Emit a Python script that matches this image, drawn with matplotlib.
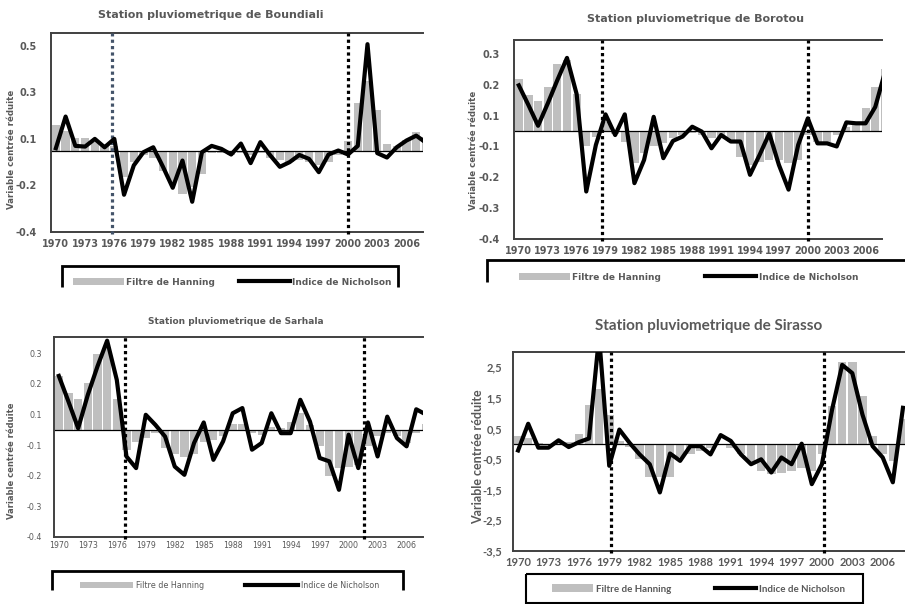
import numpy as np
import matplotlib
matplotlib.use('Agg')
import matplotlib.pyplot as plt
from matplotlib.patches import Rectangle
from matplotlib.lines import Line2D

years = list(range(1970, 2009))
tick_years = [str(y) for y in range(1970, 2007, 3)]

# Boundiali
boundiali_hanning = [0.111, 0.086, 0.054, 0.054, 0.036, 0.03, 0.02, -0.114, -0.05, -0.02,
                     -0.03, -0.086, -0.136, -0.186, -0.157, -0.1, -0.01, -0.01, -0.02, -0.01,
                     -0.02, -0.01, -0.03, -0.04, -0.05, -0.04, -0.05, -0.06, -0.05, -0.02,
                     0.04, 0.203, 0.30, 0.174, 0.029, 0.021, 0.046, 0.079, 0.06]
boundiali_nicholson = [0.01, 0.146, 0.02, 0.017, 0.05, 0.014, 0.05, -0.19, -0.064, -0.007,
                       0.014, -0.07, -0.16, -0.043, -0.22, -0.007, 0.02, 0.007, -0.017, 0.03,
                       -0.054, 0.036, -0.02, -0.07, -0.05, -0.019, -0.036, -0.093, -0.017, 0.0,
                       -0.017, 0.02, 0.457, -0.011, -0.03, 0.014, 0.043, 0.064, 0.034]
boundiali_breaks = [5.8, 30.0]
boundiali_yticks = [0.45, 0.25, 0.05, -0.15, -0.35]
boundiali_ylabels = ['0.5', '0.3', '0.1', '-0.2', '-0.4']

# Borotou
borotou_hanning = [0.168, 0.116, 0.098, 0.143, 0.218, 0.23, 0.12, -0.05, -0.02, 0.03,
                   -0.01, -0.034, -0.104, -0.072, -0.05, -0.04, -0.024, -0.013, -0.008, -0.013,
                   -0.024, -0.024, -0.034, -0.083, -0.11, -0.1, -0.094, -0.094, -0.104, -0.094,
                   -0.013, -0.034, -0.034, -0.013, 0.014, 0.02, 0.073, 0.143, 0.2]
borotou_nicholson = [0.148, 0.084, 0.017, 0.089, 0.165, 0.237, 0.12, -0.196, -0.045, 0.054,
                     -0.013, 0.054, -0.169, -0.094, 0.046, -0.088, -0.032, -0.018, 0.014, -0.002,
                     -0.056, -0.013, -0.034, -0.034, -0.142, -0.077, -0.008, -0.11, -0.19, -0.045,
                     0.041, -0.04, -0.04, -0.05, 0.028, 0.025, 0.025, 0.078, 0.19]
borotou_breaks = [8.6, 30.0]
borotou_yticks = [0.25, 0.15, 0.05, -0.05, -0.15, -0.25, -0.35]
borotou_ylabels = ['0.3', '0.2', '0.1', '-0.1', '-0.2', '-0.3', '-0.4']

# Sarhala
sarhala_hanning = [0.176, 0.12, 0.1, 0.154, 0.248, 0.27, 0.1, -0.065, -0.04, -0.027,
                   -0.01, -0.06, -0.08, -0.09, -0.08, -0.04, -0.033, -0.02, 0.02, 0.02,
                   -0.01, -0.016, 0.01, 0.005, 0.027, 0.054, 0.016, -0.054, -0.152, -0.125,
                   -0.12, -0.114, -0.054, -0.02, -0.011, -0.02, -0.043, -0.01, 0.02]
sarhala_nicholson = [0.176, 0.092, 0.005, 0.114, 0.207, 0.291, 0.163, -0.087, -0.125, 0.049,
                     0.016, -0.022, -0.12, -0.147, -0.043, 0.024, -0.098, -0.038, 0.054, 0.071,
                     -0.065, -0.043, 0.054, -0.011, -0.011, 0.098, 0.027, -0.092, -0.103, -0.196,
                     -0.016, -0.125, 0.024, -0.087, 0.043, -0.027, -0.054, 0.067, 0.05]
sarhala_breaks = [6.9, 31.6]
sarhala_yticks = borotou_yticks
sarhala_ylabels = borotou_ylabels

# Sirasso
sirasso_hanning = [0.25, 0.2, 0.02, 0.0, 0.02, 0.05, 0.32, 1.25, 1.79, 0.95,
                   0.1, -0.1, -0.5, -1.1, -1.1, -1.1, -0.45, -0.35, -0.24, -0.13,
                   0.0, -0.13, -0.35, -0.62, -0.89, -1.0, -0.94, -0.89, -0.78, -0.89,
                   -0.35, 1.22, 2.66, 2.66, 1.55, 0.25, -0.35, -0.56, 0.8]
sirasso_nicholson = [-0.22, 0.65, -0.13, -0.13, 0.11, -0.11, 0.05, 0.17, 3.5, -0.72,
                     0.46, 0.03, -0.35, -0.67, -1.59, -0.32, -0.56, -0.08, -0.08, -0.35,
                     0.28, 0.09, -0.35, -0.67, -0.51, -0.94, -0.45, -0.67, 0.0, -1.32,
                     -0.67, 1.11, 2.57, 2.30, 0.95, -0.08, -0.45, -1.26, 1.17]
sirasso_breaks = [9.15, 30.25]
sirasso_yticks = [2.5, 1.5, 0.5, -0.5, -1.5, -2.5, -3.5]
sirasso_ylabels = ['2,5', '1,5', '0,5', '-0,5', '-1,5', '-2,5', '-3,5']

W, H = 905, 604
GREY = '#595959'

fig = plt.figure(figsize=(W / 100, H / 100), dpi=100)


def fx(px):
    return px / W


def fy(py):
    return 1 - py / H


def panel(box, hanning, nicholson, breaks, break_colors, yticks, ylabels, ylim, xmax,
          font, tick_fs, weight, ypad, xpad):
    left, top, right, bottom = box
    ax = fig.add_axes([fx(left), fy(bottom), (right - left) / W, (bottom - top) / H])
    x = np.arange(len(years))
    bars = ax.bar(x, hanning, width=0.85, color='#BFBFBF', zorder=1)
    ax.axhline(0, color='black', lw=0.9, zorder=2)
    for b, c in zip(breaks, break_colors):
        ax.plot([b, b], [ylim[0] - 0.01 * (ylim[1] - ylim[0]), ylim[1]], color=c,
                lw=2.3, ls=(0, (1, 1)), zorder=3, clip_on=False)
    line, = ax.plot(x, nicholson, color='black', lw=3.0, zorder=4,
                    solid_joinstyle='round')
    ax.set_xlim(-0.5, xmax)
    ax.set_ylim(*ylim)
    ax.set_yticks(yticks)
    ax.set_yticklabels(ylabels)
    ax.set_xticks(x[:37:3])
    ax.set_xticklabels(tick_years)
    for lab in ax.get_xticklabels() + ax.get_yticklabels():
        lab.set_family(font)
        lab.set_fontsize(tick_fs)
        lab.set_fontweight(weight)
        lab.set_color(GREY)
    ax.tick_params(axis='y', length=0, pad=ypad)
    ax.tick_params(axis='x', length=0, pad=xpad)
    ax.spines['right'].set_visible(False)
    for s in ['left', 'top', 'bottom']:
        ax.spines[s].set_color('#404040')
        ax.spines[s].set_linewidth(1.4)
    return ax, bars, line


def legend(ax, bars, line, x0, x1, yc, font, fs, weight, hlen):
    prop = {'family': font, 'size': fs, 'weight': weight}
    leg = ax.legend([bars, line], ['Filtre de Hanning', 'Indice de Nicholson'],
                    loc='center left', bbox_to_anchor=(fx(x0), fy(yc), fx(x1) - fx(x0), 0),
                    bbox_transform=fig.transFigure, mode='expand', ncol=2, frameon=False,
                    borderpad=0, borderaxespad=0, handlelength=hlen, handleheight=0.8,
                    handletextpad=0.3, prop=prop)
    for t in leg.get_texts():
        t.set_color(GREY)
    return leg


def box_path(xs, ys, lw):
    fig.add_artist(Line2D([fx(v) for v in xs], [fy(v) for v in ys], color='black',
                          lw=lw, transform=fig.transFigure, solid_joinstyle='miter',
                          solid_capstyle='butt', zorder=11))


def mask(x0, y0, x1, y1):
    fig.add_artist(Rectangle((fx(x0), fy(y1)), fx(x1) - fx(x0), fy(y0) - fy(y1),
                             transform=fig.transFigure, color='white', zorder=10))


F1 = 'DejaVu Sans'
F4 = 'Lato'

# --- Boundiali ---
ax1, b1, l1 = panel((51, 33, 423, 232), boundiali_hanning, boundiali_nicholson,
                    boundiali_breaks, ['#44546A', 'black'], boundiali_yticks,
                    boundiali_ylabels, (-0.35, 0.505), 37.7, F1, 7, 'bold', 10, 5)
fig.text(fx(211), fy(15), 'Station pluviometrique de Boundiali', ha='center', va='center',
         family=F1, fontsize=8, weight='bold', color=GREY)
fig.text(fx(12), fy(149), 'Variable centrée réduite', rotation=90, ha='center',
         va='center', family=F1, fontsize=6.2, weight='bold', color=GREY)
legend(ax1, b1, l1, 73, 392, 282, F1, 6.5, 'bold', 5.6)
box_path([62, 62, 398, 398], [287, 266, 266, 287], 2.0)

# --- Borotou ---
ax2, b2, l2 = panel((514, 40, 882, 239), borotou_hanning, borotou_nicholson,
                    borotou_breaks, ['black', 'black'], borotou_yticks,
                    borotou_ylabels, (-0.35, 0.295), 37.7, F1, 7, 'bold', 10, 5)
fig.text(fx(695), fy(19), 'Station pluviometrique de Borotou', ha='center', va='center',
         family=F1, fontsize=8, weight='bold', color=GREY)
fig.text(fx(473), fy(150), 'Variable centrée réduite', rotation=90, ha='center',
         va='center', family=F1, fontsize=6.2, weight='bold', color=GREY)
legend(ax2, b2, l2, 519, 858, 277, F1, 6.5, 'bold', 5.6)
box_path([487, 487, 910], [282, 260, 260], 2.0)

# --- Sarhala ---
ax3, b3, l3 = panel((54, 337, 423, 537), sarhala_hanning, sarhala_nicholson,
                    sarhala_breaks, ['black', 'black'], sarhala_yticks,
                    sarhala_ylabels, (-0.35, 0.303), 37.7, F1, 5.7, 'normal', 9, 3)
fig.text(fx(236), fy(321), 'Station pluviometrique de Sarhala', ha='center', va='center',
         family=F1, fontsize=6.5, weight='bold', color=GREY)
fig.text(fx(12), fy(461), 'Variable centrée réduite', rotation=90, ha='center',
         va='center', family=F1, fontsize=6, weight='bold', color=GREY)
legend(ax3, b3, l3, 80, 379, 585.5, F1, 5.8, 'normal', 6.6)
box_path([52, 52, 403, 403], [590, 571, 571, 590], 2.0)

# --- Sirasso ---
ax4, b4, l4 = panel((513, 352, 906, 551), sirasso_hanning, sirasso_nicholson,
                    sirasso_breaks, ['black', 'black'], sirasso_yticks,
                    sirasso_ylabels, (-3.5, 2.99), 38.3, F4, 8, 'bold', 8, 4)
fig.text(fx(709), fy(326), 'Station pluviometrique de Sirasso', ha='center', va='center',
         family=F4, fontsize=11, weight='bold', color=GREY)
fig.text(fx(478), fy(457), 'Variable centrée réduite', rotation=90, ha='center',
         va='center', family=F4, fontsize=9, weight='bold', color=GREY)
legend(ax4, b4, l4, 552, 845, 589, F4, 7, 'bold', 4.2)
box_path([526, 863, 863, 526, 526], [574, 574, 603, 603, 574], 1.5)

# the source picture is a collage of cropped charts: legends are cut at the bottom
mask(0, 287, 450, 300)
mask(450, 282, 905, 300)
mask(0, 590, 450, 604)

fig.savefig('out.png', dpi=100)
